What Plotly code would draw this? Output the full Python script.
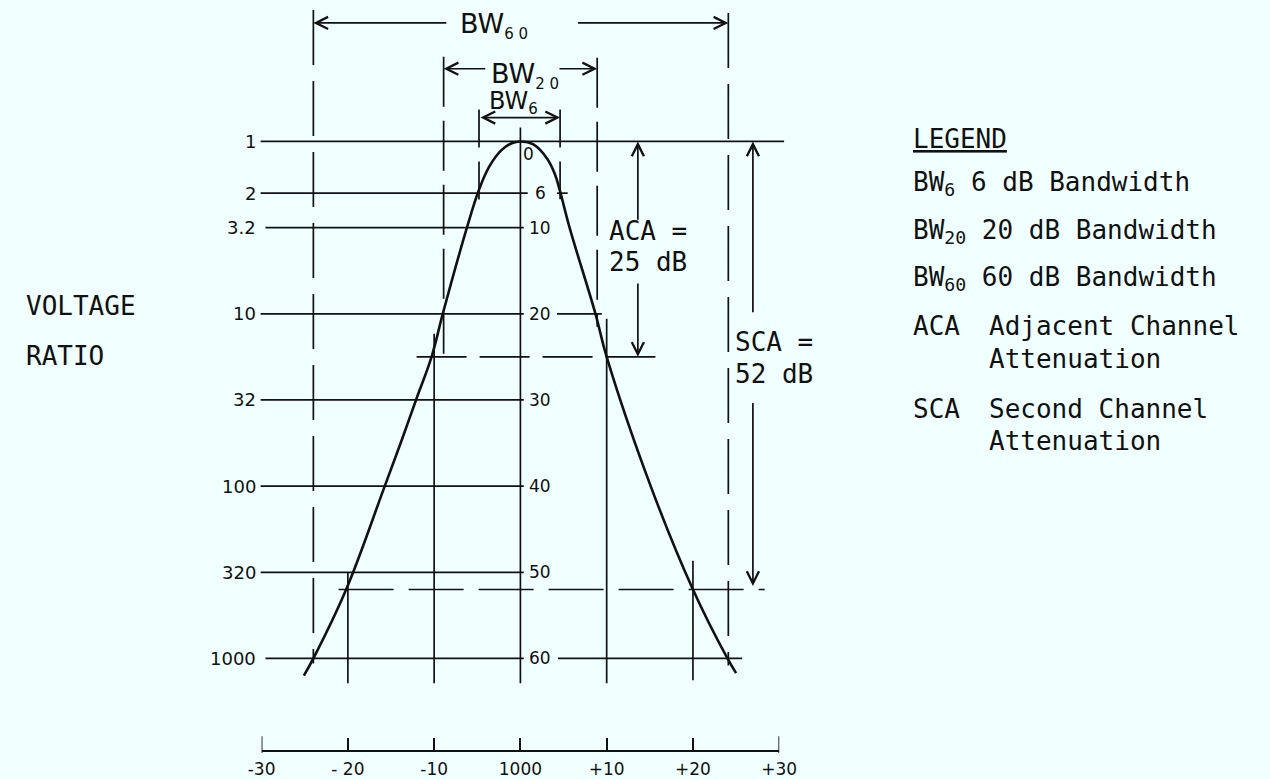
import plotly.graph_objects as go

# ---------------- data ----------------
# selectivity curve: frequency offset from 1000 kHz vs attenuation in dB
freq_khz = [-25.1, -24.0, -20.2, -15.8, -13.7, -12.1, -10.3, -9.0, -6.2, -4.8, -3.6, -2.2, -1.0, 0.0,
            1.5, 3.1, 4.0, 4.6, 5.7, 8.7, 10.0, 15.1, 20.0, 24.0, 25.0]
atten_db = [62.0, 60.0, 52.0, 40.2, 34.5, 30.0, 25.0, 20.0, 10.0, 5.6, 2.9, 1.0, 0.2, 0.0,
            0.35, 2.0, 3.8, 5.8, 10.0, 20.0, 25.0, 40.0, 52.0, 60.0, 61.7]

db_levels = [0, 6, 10, 20, 30, 40, 50, 60]
ratio_labels = ["1", "2", "3.2", "10", "32", "100", "320", "1000"]
db_labels = ["0", "6", "10", "20", "30", "40", "50", "60"]

axis_ticks_khz = [-30, -20, -10, 0, 10, 20, 30]
axis_tick_labels = ["-30", "- 20", "-10", "1000", "+10", "+20", "+30"]

ref_lines_khz = [-20, -10, 0, 10, 20]

bw6_khz = [-4.8, 4.6]
bw20_khz = [-8.9, 8.9]
bw60_khz = [-24.0, 24.1]

aca_db = 25
sca_db = 52

legend_keys = ["BW<sub>6</sub>", "BW<sub>20</sub>", "BW<sub>60</sub>", "ACA", "SCA"]
legend_texts = ["6 dB Bandwidth", "20 dB Bandwidth", "60 dB Bandwidth",
                "Adjacent Channel<br>Attenuation", "Second Channel<br>Attenuation"]

# ---------------- layout helpers ----------------
W, H = 1270, 779
X0, SX = 519.5, 8.85   # pixel of 0 kHz, pixels per kHz
Y0, SY = 142.0, 8.65   # pixel of 0 dB, pixels per dB


def fx(px):
    return (px - X0) / SX


def fy(py):
    return (py - Y0) / SY


INK = "#111111"
BG = "#F0FFFF"
MONO = "DejaVu Sans Mono"
SANS = "DejaVu Sans"
LW = 1.7

fig = go.Figure()


def seg_trace(xs, ys, dash="solid", width=LW, xaxis="x"):
    fig.add_trace(go.Scatter(x=xs, y=ys, mode="lines", xaxis=xaxis, yaxis="y",
                             line=dict(color=INK, width=width, dash=dash),
                             hoverinfo="skip", showlegend=False))


# horizontal level lines (left part)
grid_start = [fx(253), fx(253), fx(258), fx(253), fx(253), fx(253), fx(253), fx(258)]
grid_end = [fx(790), fx(527), fx(523), fx(523), fx(523), fx(523), fx(523), fx(523)]
xs, ys = [], []
for lvl, a, b in zip(db_levels, grid_start, grid_end):
    xs += [a, b, None]
    ys += [lvl, lvl, None]
seg_trace(xs, ys)

# short right-hand level segments (6, 20, 60 dB)
right_spans = {6: (fx(557), fx(568)), 20: (fx(557), fx(603)), 60: (fx(558), fx(747))}
xs, ys = [], []
for lvl, (a, b) in right_spans.items():
    xs += [a, b, None]
    ys += [lvl, lvl, None]
seg_trace(xs, ys)

# solid vertical reference lines
v_top = [fy(575), fy(335), fy(128), fy(320), fy(563)]
v_bot = [fy(686), fy(686), fy(686), fy(686), fy(683)]
xs, ys = [], []
for f, t, b in zip(ref_lines_khz, v_top, v_bot):
    xs += [f, f, None]
    ys += [t, b, None]
seg_trace(xs, ys)

# dashed bandwidth verticals
seg_trace([bw60_khz[0], bw60_khz[0], None, bw60_khz[1], bw60_khz[1]],
          [fy(10), fy(666), None, fy(13), fy(668)], dash="55px,16px")
seg_trace([bw20_khz[0], bw20_khz[0], None, bw20_khz[1], bw20_khz[1]],
          [fy(57), fy(355), None, fy(58), fy(328)], dash="50px,14px")
seg_trace([bw6_khz[0], bw6_khz[0], None, bw6_khz[1], bw6_khz[1]],
          [fy(110), fy(212), None, fy(110), fy(200)], dash="38px,14px")

# dashed attenuation levels (ACA and SCA)
seg_trace([fx(413), fx(658)], [aca_db, aca_db], dash="50px,13px")
seg_trace([fx(333), fx(770)], [sca_db, sca_db], dash="55px,15px")

# selectivity curve
fig.add_trace(go.Scatter(x=freq_khz, y=atten_db, mode="lines",
                         line=dict(color=INK, width=2.6, shape="spline", smoothing=1.1),
                         hoverinfo="skip", showlegend=False))

# invisible trace to carry the bottom frequency axis
fig.add_trace(go.Scatter(x=axis_ticks_khz, y=[0] * len(axis_ticks_khz), xaxis="x2", yaxis="y",
                         mode="markers", marker=dict(opacity=0), hoverinfo="skip",
                         showlegend=False))
# taller end ticks of the frequency scale
end_a, end_b = axis_ticks_khz[0], axis_ticks_khz[-1]
seg_trace([end_a, end_a, None, end_b, end_b], [fy(739), fy(756), None, fy(739), fy(756)],
          xaxis="x2")

ann = []


def text(x, y, s, size=26, family=MONO, xanchor="center", yanchor="middle"):
    ann.append(dict(x=x, y=y, xref="x", yref="y", text=s, showarrow=False,
                    xanchor=xanchor, yanchor=yanchor,
                    font=dict(family=family, size=size, color=INK)))


def arrow(hx, hy, tx, ty, side="end"):
    ann.append(dict(x=hx, y=hy, ax=tx, ay=ty, xref="x", yref="y", axref="x", ayref="y",
                    text="", showarrow=True, arrowhead=5, startarrowhead=5, arrowside=side,
                    arrowsize=1.4, startarrowsize=1.4, arrowwidth=LW, arrowcolor=INK,
                    font=dict(size=1)))


# left voltage-ratio labels and inner dB labels
for lvl, lab in zip(db_levels, ratio_labels):
    text(fx(250), lvl, lab, size=18, family=SANS, xanchor="right")
for lvl, lab in zip(db_levels[1:], db_labels[1:]):
    text(fx(540), lvl, lab, size=17, family=SANS)
text(fx(528), fy(155), db_labels[0], size=17, family=SANS)

# bandwidth arrows and labels
arrow(bw60_khz[0], fy(23), fx(445), fy(23))
arrow(bw60_khz[1], fy(23), fx(577), fy(23))
arrow(bw20_khz[0], fy(69), fx(485), fy(69))
arrow(bw20_khz[1], fy(69), fx(558), fy(69))
arrow(bw6_khz[1], fy(118), bw6_khz[0], fy(118), side="end+start")

SUB = "<sub><span style='font-size:15px'>%s</span></sub>"
text(fx(492), fy(6), "BW" + SUB % "6 0", size=27, family=SANS, yanchor="top")
text(fx(524), fy(56), "BW" + SUB % "2 0", size=27, family=SANS, yanchor="top")
text(fx(512), fy(85), "BW" + SUB % "6", size=24, family=SANS, yanchor="top")

# ACA / SCA dimension arrows and texts
aca_x, sca_x = fx(640), fx(758)
arrow(aca_x, 0, aca_x, fy(222))
arrow(aca_x, aca_db, aca_x, fy(283))
arrow(sca_x, 0, sca_x, fy(315))
arrow(sca_x, sca_db - 0.4, sca_x, fy(403))
text(fx(608), fy(232), "ACA =", xanchor="left")
text(fx(608), fy(263), "%d dB" % aca_db, xanchor="left")
text(fx(738), fy(343), "SCA =", xanchor="left")
text(fx(738), fy(375), "%d dB" % sca_db, xanchor="left")

# axis title
text(fx(10), fy(307), "VOLTAGE", xanchor="left")
text(fx(10), fy(357), "RATIO", xanchor="left")

# legend
text(fx(920), fy(140), "<u>LEGEND</u>", xanchor="left")
row_y = [184, 232, 280]
for key, desc, yy in zip(legend_keys[:3], legend_texts[:3], row_y):
    text(fx(920), fy(yy), key + " " + desc, xanchor="left")
for key, desc, y1, y2 in zip(legend_keys[3:], legend_texts[3:], [327, 411], [360, 443]):
    first, second = desc.split("<br>")
    text(fx(920), fy(y1), key, xanchor="left")
    text(fx(998), fy(y1), first, xanchor="left")
    text(fx(998), fy(y2), second, xanchor="left")

fig.update_layout(
    width=W, height=H, margin=dict(l=0, r=0, t=0, b=0),
    paper_bgcolor=BG, plot_bgcolor="rgba(0,0,0,0)", showlegend=False,
    annotations=ann,
    xaxis=dict(range=[fx(0), fx(W)], visible=False, fixedrange=True),
    yaxis=dict(range=[fy(H), fy(0)], visible=False, fixedrange=True),
    xaxis2=dict(domain=[254 / W, 785 / W], range=[-30, 30], anchor="free",
                position=(H - 754) / H, side="bottom", showline=True, linecolor=INK,
                linewidth=LW, ticks="inside", ticklen=12, tickwidth=LW, tickcolor=INK,
                tickvals=axis_ticks_khz, ticktext=axis_tick_labels,
                tickfont=dict(family=SANS, size=17, color=INK), ticklabelstandoff=3,
                showgrid=False, zeroline=False, fixedrange=True),
)

fig.write_html("out.html")
